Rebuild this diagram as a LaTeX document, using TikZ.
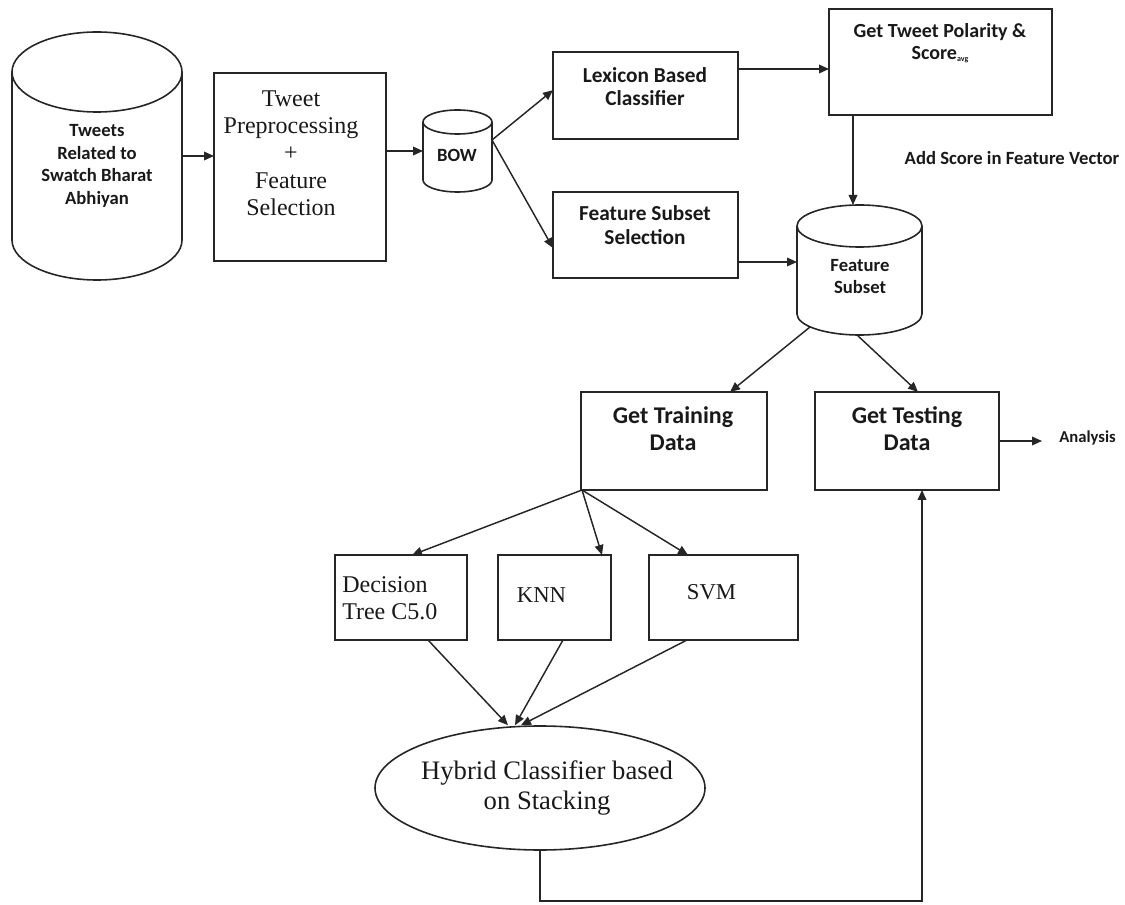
\documentclass[tikz,border=0pt]{standalone}
\usepackage{fontspec}
\setmainfont{Liberation Serif}
\newfontfamily\carl{Carlito}
\usetikzlibrary{arrows.meta,shapes.geometric,calc}
\newcommand\sfz[2]{\carl\bfseries\fontsize{#1}{#2}\selectfont}
\newcommand\rmz[2]{\rmfamily\fontsize{#1}{#2}\selectfont}
\begin{document}
\begin{tikzpicture}[x=0.75pt,y=-0.75pt,
  line/.style={draw=black!85, line width=1.2pt},
  box/.style={line, rectangle, inner sep=0pt, outer sep=0pt},
  geom/.style={rectangle, inner sep=0pt, outer sep=0pt, draw=none},
  arr/.style={line width=1.1pt, draw=black!85, -{Triangle[length=7.5pt,width=6.5pt]}},
  stxt/.style={align=center, inner sep=0pt, text=black!90},
]
\useasboundingbox (0,0) rectangle (1125,905);

% cylinders
\draw[line] (97,72) ellipse [x radius=63.75pt, y radius=30pt];
\draw[line] (12,72) -- (12,240) arc[start angle=180,end angle=360,x radius=63.75pt,y radius=30pt] -- (182,72);
\draw[line] (457.5,122) ellipse [x radius=25.875pt, y radius=9pt];
\draw[line] (423,122) -- (423,180) arc[start angle=180,end angle=360,x radius=25.875pt,y radius=9pt] -- (492,122);
\draw[line] (859.5,226) ellipse [x radius=46.875pt, y radius=15.75pt];
\draw[line] (797,226) -- (797,314) arc[start angle=180,end angle=360,x radius=46.875pt,y radius=15.75pt] -- (922,226);

\node[geom, minimum width=127.5pt, minimum height=186pt] (tw) at (97,156) {};
\node[geom, minimum width=51.75pt, minimum height=61.5pt] (bow) at (457.5,151) {};
\node[geom, minimum width=93.75pt, minimum height=97.5pt] (fsub) at (859.5,270) {};

\node[stxt, font=\sfz{14}{17}] (twT) at (97,166) {Tweets\\Related to\\Swatch Bharat\\Abhiyan};
\node[stxt, font=\sfz{14}{17}] (bowT) at (457,155) {BOW};
\node[stxt, font=\sfz{14}{17}] (fsubT) at (860,276.5) {Feature\\Subset};

% boxes
\node[box, minimum width=129pt, minimum height=141pt] (pre) at (300,167) {};
\node[stxt, font=\rmz{18}{20.5}] (preT) at (291,153) {Tweet\\Preprocessing\\+\\Feature\\Selection};

\node[box, minimum width=138.75pt, minimum height=65.25pt] (lex) at (645.5,95.5) {};
\node[stxt, font=\sfz{16}{17.5}] (lexT) at (645,86.5) {Lexicon Based\\Classifier};
\node[box, minimum width=138.75pt, minimum height=64.5pt] (fss) at (645.5,235) {};
\node[stxt, font=\sfz{16}{17.5}] (fssT) at (645,225) {Feature Subset\\Selection};
\node[box, minimum width=167.25pt, minimum height=79.5pt] (pol) at (940.5,62) {};
\node[stxt, font=\sfz{15}{16.5}] (polT) at (940,43) {Get Tweet Polarity \&\\Score\raisebox{-1.5pt}{\fontsize{6}{6}\selectfont avg}};
\node[stxt, font=\sfz{14}{16}] (addT) at (1012,158) {Add Score in Feature Vector};

\node[box, minimum width=139.5pt, minimum height=73.5pt] (train) at (674,441) {};
\node[stxt, font=\sfz{18}{20.25}] (trainT) at (673,428.5) {Get Training\\Data};
\node[box, minimum width=138pt, minimum height=73.5pt] (test) at (907,441) {};
\node[stxt, font=\sfz{18}{20.25}] (testT) at (907,428.5) {Get Testing\\Data};
\node[stxt, font=\sfz{12.5}{14}, anchor=west] (ana) at (1059,438) {Analysis};

\node[box, minimum width=99pt, minimum height=63.75pt] (dt) at (401,597.5) {};
\node[stxt, align=left, anchor=west, font=\rmz{18}{20.25}] (dtT) at (342,598.5) {Decision\\Tree C5.0};
\node[box, minimum width=84.75pt, minimum height=63.75pt] (knn) at (554.5,597.5) {};
\node[stxt, font=\rmz{17}{20}] (knnT) at (541.5,595) {KNN};
\node[box, minimum width=111.75pt, minimum height=63.75pt] (svm) at (723.5,597.5) {};
\node[stxt, font=\rmz{17}{20}] (svmT) at (711.5,592) {SVM};

\node[line, ellipse, inner sep=0pt, minimum width=247.5pt, minimum height=93pt] (hyb) at (540,788) {};
\node[stxt, font=\rmz{20}{22.5}] (hybT) at (547,788) {Hybrid Classifier based\\on Stacking};

% connectors
\draw[arr] (tw.east) -- (tw.east -| pre.west);
\draw[arr] (pre.east |- bow.west) -- (bow.west);
\draw[arr] ([yshift=8.25pt]bow.east) -- ([yshift=4pt]lex.west);
\draw[arr] ([yshift=8.25pt]bow.east) -- ([yshift=-9.75pt]fss.west);
\coordinate (polIn) at ([yshift=-5.25pt]pol.west);
\draw[arr] (lex.east |- polIn) -- (polIn);
\coordinate (fsubIn) at ([xshift=-4.875pt]fsub.north);
\draw[arr] (pol.south -| fsubIn) -- (fsubIn);
\coordinate (fsubL) at ([yshift=6pt]fsub.west);
\draw[arr] (fss.east |- fsubL) -- (fsubL);
\draw[arr] ([xshift=-37.125pt,yshift=6pt]fsub.south) -- ([xshift=42pt]train.north);
\draw[arr] ([xshift=-1.875pt]fsub.south) -- ([xshift=8.25pt]test.north);
\coordinate (anaIn) at ([xshift=-12.75pt]ana.west);
\draw[arr] (test.east) -- (test.east -| anaIn);

\coordinate (fan) at ([xshift=0.75pt]train.south west);
\draw[arr] (fan) -- ([xshift=8.25pt]dt.north);
\draw[arr] (fan) -- ([xshift=-6.75pt]knn.north east);
\draw[arr] (fan) -- ([xshift=29.25pt]svm.north west);

\draw[arr] ([xshift=20.25pt]dt.south) -- ([xshift=-24pt]hyb.north);
\draw[arr] ([xshift=6.375pt]knn.south) -- ([xshift=-18.75pt]hyb.north);
\draw[arr] ([xshift=-27.375pt]svm.south) -- ([xshift=-14.25pt]hyb.north);

\draw[arr] (hyb.south) -- ++(0,50) -| ([xshift=11.25pt]test.south);
\end{tikzpicture}
\end{document}
